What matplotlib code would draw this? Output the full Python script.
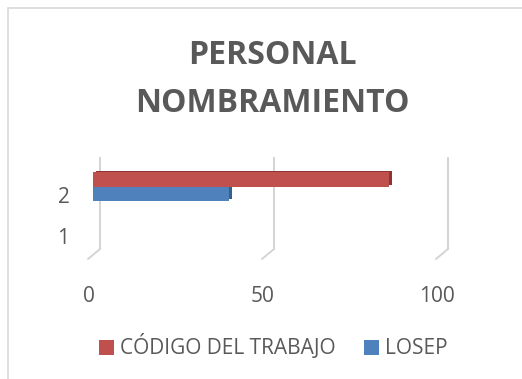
import matplotlib
matplotlib.use('Agg')
import matplotlib.pyplot as plt
import matplotlib.transforms as mtransforms
from matplotlib.lines import Line2D
from matplotlib.patches import Rectangle, Patch

# datos del grafico
categorias = [1, 2]
series = ['CÓDIGO DEL TRABAJO', 'LOSEP']
codigo_trabajo = [0, 85]
losep = [0, 39]
xticks = [0, 50, 100]
titulo = 'PERSONAL\nNOMBRAMIENTO'

ROJO = '#C0504D'
ROJO_OSC = '#8E3533'
AZUL = '#4F81BD'
AZUL_OSC = '#365E8F'
GRIS_TXT = '#595959'
GRIS_LIN = '#D4D4D4'

W, H = 522, 379
fig = plt.figure(figsize=(W / 100, H / 100), dpi=100)

# marco del area del grafico
fig.add_artist(Rectangle((8 / W, -0.1), 1.2, (H - 8) / H + 0.1,
                         transform=fig.transFigure, fill=False,
                         edgecolor='#D9D9D9', linewidth=1.2))

ax = fig.add_axes([93 / W, 122.5 / H, 348 / W, 102.5 / H])
ax.set_xlim(0, 100)
ax.set_ylim(0.5, 3.0)
ax.set_autoscale_on(False)
for s in ax.spines.values():
    s.set_visible(False)
ax.patch.set_visible(False)


def desplaza(dx, dy):
    return mtransforms.offset_copy(ax.transData, fig, x=dx, y=dy, units='dots')


# pared del fondo y suelo en perspectiva
for xv in xticks:
    ax.add_line(Line2D([xv, xv], [0.683, 2.9], color=GRIS_LIN, lw=1.4,
                       transform=desplaza(7, 0), zorder=1, clip_on=False))
    ax.annotate('', xy=(xv, 0.683), xycoords=desplaza(7, 0),
                xytext=(xv, 0.683), textcoords=desplaza(-5, -10),
                arrowprops=dict(arrowstyle='-', color=GRIS_LIN, lw=1.4,
                                shrinkA=0, shrinkB=0))

alto = 0.36
pos_rojo = [c + 0.38 for c in categorias]
pos_azul = [c + 0.04 for c in categorias]

# caras laterales y superiores (efecto 3D)
ax.barh(pos_rojo, codigo_trabajo, height=alto, color=ROJO_OSC,
        transform=desplaza(3, 1.5), zorder=2)
ax.barh(pos_azul, losep, height=alto, color=AZUL_OSC,
        transform=desplaza(3, 1.5), zorder=2)
# caras frontales
ax.barh(pos_azul, losep, height=alto, color=AZUL, zorder=3)
ax.barh(pos_rojo, codigo_trabajo, height=alto, color=ROJO, zorder=4)

ax.set_xticks(xticks)
ax.set_xticklabels([str(v) for v in xticks])
ax.set_yticks(categorias)
ax.set_yticklabels([str(c) for c in categorias])
ax.tick_params(length=0, labelsize=15, labelcolor=GRIS_TXT)
ax.tick_params(axis='x', pad=21)
ax.tick_params(axis='y', pad=17)
for lbl in ax.get_xticklabels():
    lbl.set_fontfamily('Open Sans')
    lbl.set_transform(lbl.get_transform() +
                      mtransforms.ScaledTranslation(-4 / 100, 0, fig.dpi_scale_trans))
for lbl in ax.get_yticklabels():
    lbl.set_fontfamily('Open Sans')

fig.text(272 / W, 1 - 79 / H, titulo, ha='center', va='center',
         fontsize=23, fontweight='bold', color=GRIS_TXT,
         family='Open Sans', linespacing=1.6)

handles = [Patch(facecolor=ROJO, label=series[0]),
           Patch(facecolor=AZUL, label=series[1])]
fig.legend(handles=handles, loc='center', bbox_to_anchor=(273.5 / W, 32 / H),
           ncol=2, frameon=False, handlelength=0.7, handleheight=0.7,
           handletextpad=0.3, columnspacing=1.38,
           prop={'family': 'Open Sans', 'size': 15},
           labelcolor=GRIS_TXT)

fig.savefig('out.png', dpi=100)
